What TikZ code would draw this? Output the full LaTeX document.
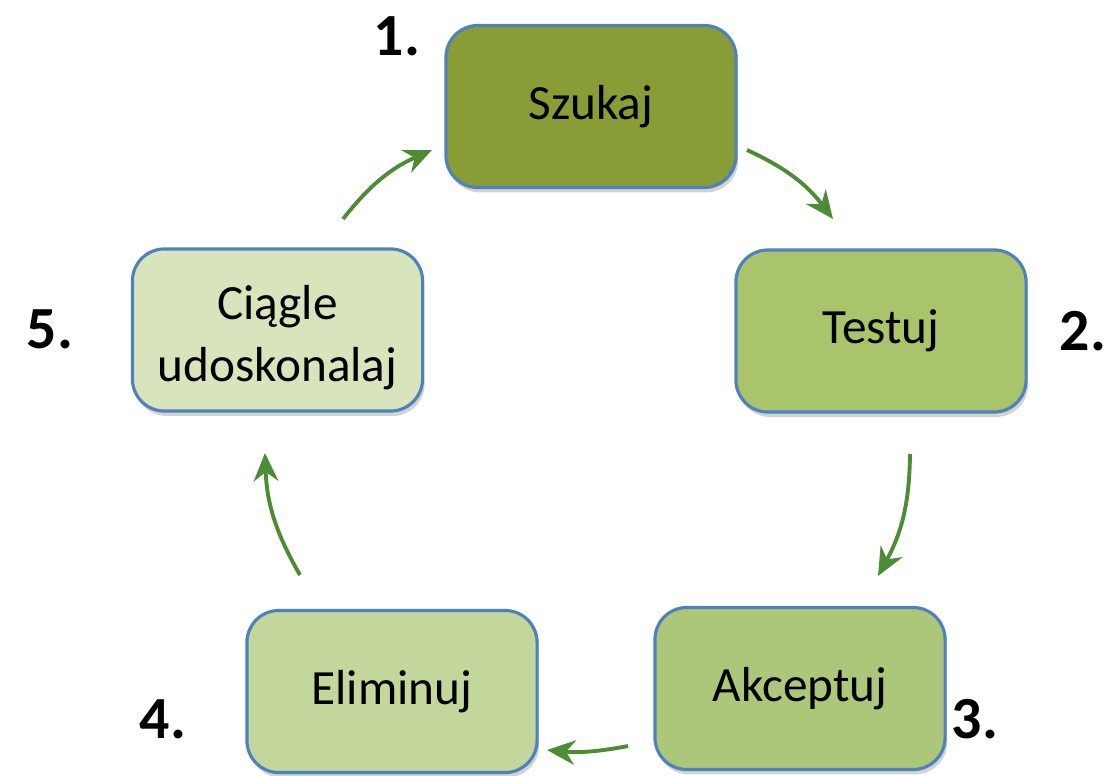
\documentclass[tikz,border=0pt]{standalone}
\usepackage{fontspec}
\setmainfont{Carlito}
\usetikzlibrary{shadows,arrows.meta}
\definecolor{bordc}{RGB}{79,129,189}
\definecolor{arrc}{RGB}{76,140,52}
\definecolor{c1}{RGB}{136,157,53}
\definecolor{c2}{RGB}{169,196,106}
\definecolor{c3}{RGB}{173,199,122}
\definecolor{c4}{RGB}{195,214,155}
\definecolor{c5}{RGB}{216,228,188}
\tikzset{
  stagebox/.style={draw=bordc, line width=0.9pt, rounded corners=3.2mm,
    minimum width=2.9cm, minimum height=1.62cm, align=center,
    font=\fontsize{14}{17.5}\selectfont, inner sep=2pt,
    drop shadow={opacity=0.35, shadow xshift=0.6pt, shadow yshift=-1.4pt}},
  numlabel/.style={font=\fontsize{17}{20}\selectfont\bfseries},
  cyclearrow/.style={draw=arrc, line width=1.1pt, -{Stealth[length=8pt,width=7pt]}, bend left=14}
}
\begin{document}
\begin{tikzpicture}[x=0.01cm,y=-0.01cm]
\useasboundingbox (0,0) rectangle (1115,776);
\node[stagebox, fill=c1] (s1) at (591,106.5) {Szukaj};
\node[stagebox, fill=c2] (s2) at (881,331) {Testuj};
\node[stagebox, fill=c3] (s3) at (800,688.5) {Akceptuj};
\node[stagebox, fill=c4] (s4) at (392,691.5) {Eliminuj};
\node[stagebox, fill=c5] (s5) at (277.5,330) {\rule{0pt}{14pt}Ciągle\\udoskonalaj};
\node[numlabel] (n1) at (397,36) {1.};
\node[numlabel] (n2) at (1083,331) {2.};
\node[numlabel] (n3) at (975,719) {3.};
\node[numlabel] (n4) at (163,719) {4.};
\node[numlabel] (n5) at (50,329) {5.};
\coordinate (a1s) at (747,150);
\coordinate (a1e) at (833,219);
\coordinate (a2s) at (910,454);
\coordinate (a2e) at (878,576);
\coordinate (a3s) at (628,746);
\coordinate (a3e) at (547,750);
\coordinate (a4s) at (300,575);
\coordinate (a4e) at (265,453);
\coordinate (a5s) at (343,219);
\coordinate (a5e) at (432,150);
\draw[cyclearrow] (a1s) to (a1e);
\draw[cyclearrow] (a2s) to (a2e);
\draw[cyclearrow, bend left=8] (a3s) to (a3e);
\draw[cyclearrow] (a4s) to (a4e);
\draw[cyclearrow] (a5s) to (a5e);
\end{tikzpicture}
\end{document}
